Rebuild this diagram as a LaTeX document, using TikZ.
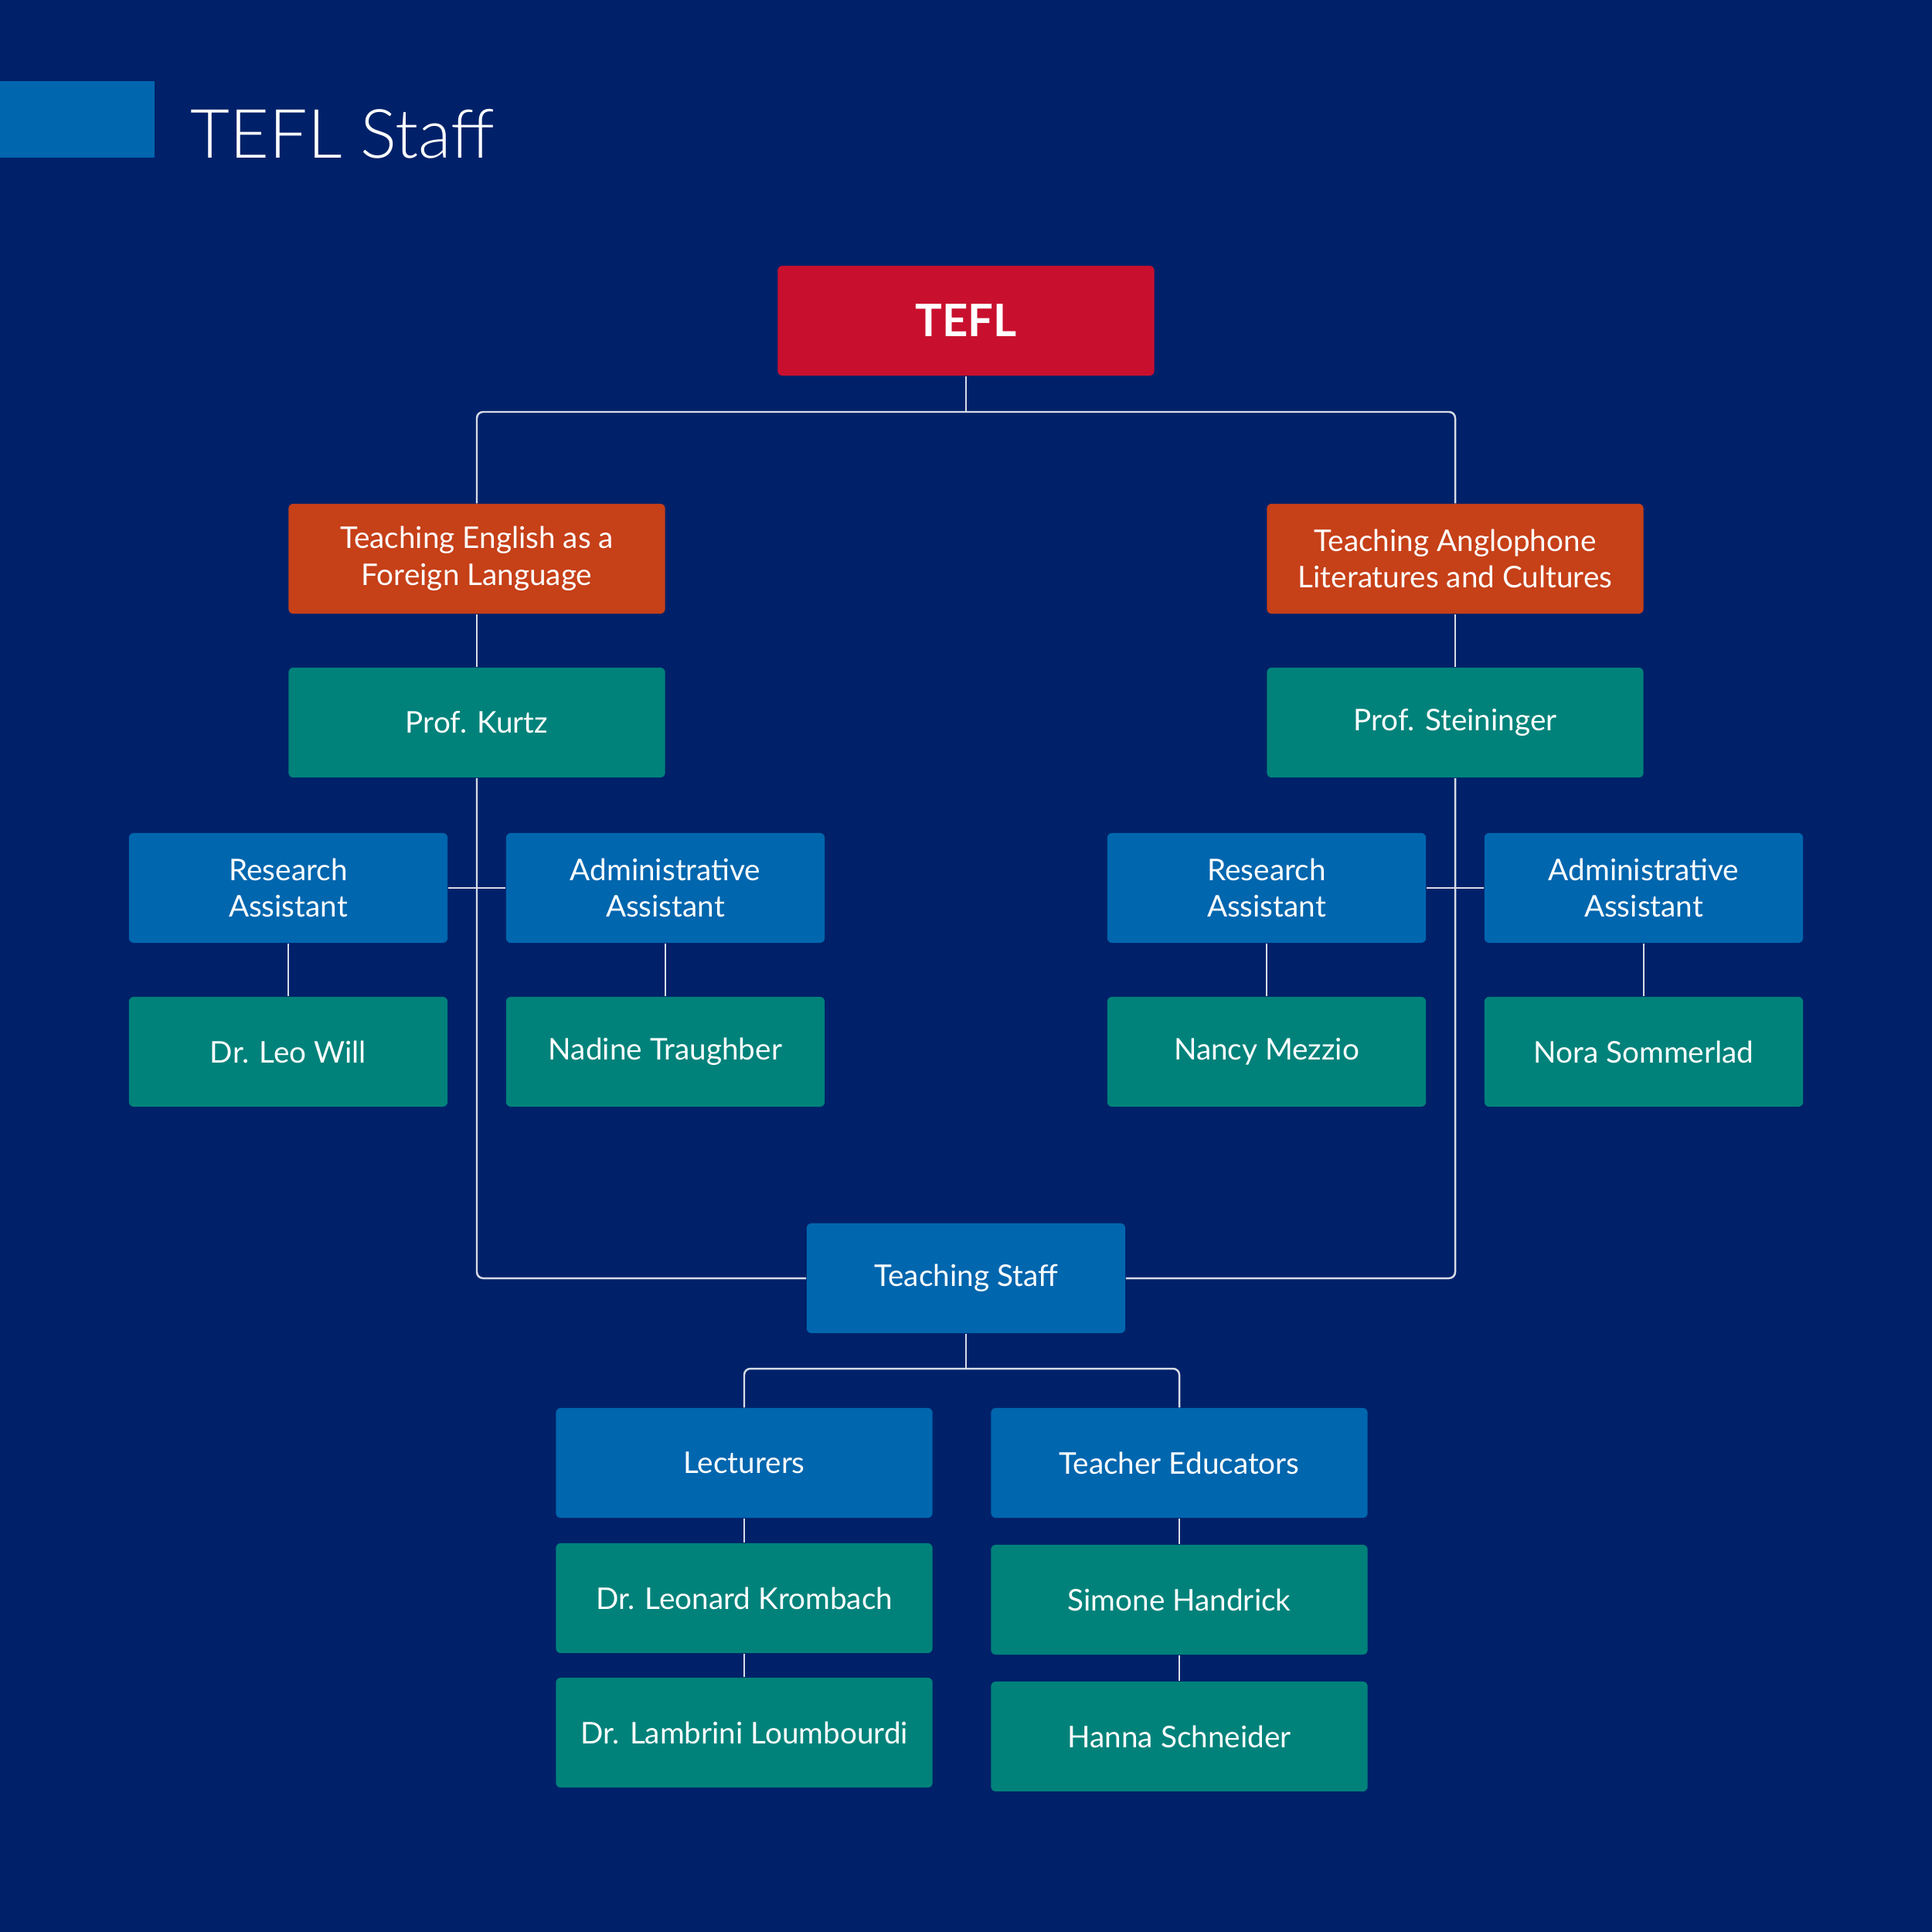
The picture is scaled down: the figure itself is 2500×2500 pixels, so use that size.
\documentclass[tikz,border=0pt]{standalone}
\usepackage{fontspec}
\setmainfont{Lato}
\newfontfamily\titlefont{Lato Light}
\definecolor{bgnavy}{RGB}{0,33,105}
\definecolor{tred}{RGB}{200,16,46}
\definecolor{torange}{RGB}{198,64,24}
\definecolor{tblue}{RGB}{0,102,174}
\definecolor{tteal}{RGB}{0,130,122}
\definecolor{tline}{RGB}{215,220,230}
\tikzset{
  box/.style={rectangle, rounded corners=0.06cm, inner sep=0pt, text=white, align=center,
    minimum height=1.42cm, font=\fontsize{11}{13.5}\selectfont},
  wide/.style={box, minimum width=4.87cm},
  narrow/.style={box, minimum width=4.12cm},
  redbox/.style={fill=tred},
  orbox/.style={fill=torange},
  bluebox/.style={fill=tblue},
  tealbox/.style={fill=tteal},
  conn/.style={draw=tline, line width=0.7pt},
}
\begin{document}
\begin{tikzpicture}[x=0.01cm,y=-0.01cm]
\fill[bgnavy] (0,0) rectangle (2500,2500);
\useasboundingbox (0,0) rectangle (2500,2500);
% title
\fill[tblue] (0,105) rectangle (200,204);
\node[anchor=base west, inner sep=0pt, text=white, font=\titlefont\fontsize{25}{30}\selectfont] (title) at (246,205) {TEFL Staff};
% nodes
\node[wide, redbox, font=\bfseries\fontsize{16.5}{20}\selectfont] (tefl) at (1250,415) {TEFL};
\node[wide, orbox] (tefla) at (617,723) {Teaching English as a\\Foreign Language};
\node[wide, orbox] (tala) at (1883,723) {Teaching Anglophone\\Literatures and Cultures};
\node[wide, tealbox] (kurtz) at (617,935) {Prof. Kurtz};
\node[wide, tealbox] (stein) at (1883,935) {Prof. Steininger};
\node[narrow, bluebox] (ra1) at (373,1149) {Research\\Assistant};
\node[narrow, bluebox] (aa1) at (861,1149) {Administrative\\Assistant};
\node[narrow, bluebox] (ra2) at (1639,1149) {Research\\Assistant};
\node[narrow, bluebox] (aa2) at (2127,1149) {Administrative\\Assistant};
\node[narrow, tealbox] (leo) at (373,1361) {Dr. Leo Will};
\node[narrow, tealbox] (nadine) at (861,1361) {Nadine Traughber};
\node[narrow, tealbox] (nancy) at (1639,1361) {Nancy Mezzio};
\node[narrow, tealbox] (nora) at (2127,1361) {Nora Sommerlad};
\node[narrow, bluebox] (ts) at (1250,1654) {Teaching Staff};
\node[wide, bluebox] (lect) at (963,1893) {Lecturers};
\node[wide, bluebox] (tedu) at (1526,1893) {Teacher Educators};
\node[wide, tealbox] (leon) at (963,2068) {Dr. Leonard Krombach};
\node[wide, tealbox] (lamb) at (963,2242) {Dr. Lambrini Loumbourdi};
\node[wide, tealbox] (simone) at (1526,2070) {Simone Handrick};
\node[wide, tealbox] (hanna) at (1526,2247) {Hanna Schneider};
% junctions
\coordinate (j1) at (1250,533);
\coordinate (j2) at (1250,1771);
% connectors
\draw[conn] (tefl.south) -- (j1);
\draw[conn, rounded corners=0.08cm] (tefla.north) |- (j1) -| (tala.north);
\draw[conn] (tefla) -- (kurtz);
\draw[conn] (tala) -- (stein);
\draw[conn, rounded corners=0.08cm] (kurtz.south) |- (ts.west);
\draw[conn, rounded corners=0.08cm] (stein.south) |- (ts.east);
\draw[conn] (ra1.east) -- (aa1.west);
\draw[conn] (ra2.east) -- (aa2.west);
\draw[conn] (ra1) -- (leo);
\draw[conn] (aa1) -- (nadine);
\draw[conn] (ra2) -- (nancy);
\draw[conn] (aa2) -- (nora);
\draw[conn] (ts.south) -- (j2);
\draw[conn, rounded corners=0.08cm] (lect.north) |- (j2) -| (tedu.north);
\draw[conn] (lect) -- (leon);
\draw[conn] (leon) -- (lamb);
\draw[conn] (tedu) -- (simone);
\draw[conn] (simone) -- (hanna);
\end{tikzpicture}
\end{document}
